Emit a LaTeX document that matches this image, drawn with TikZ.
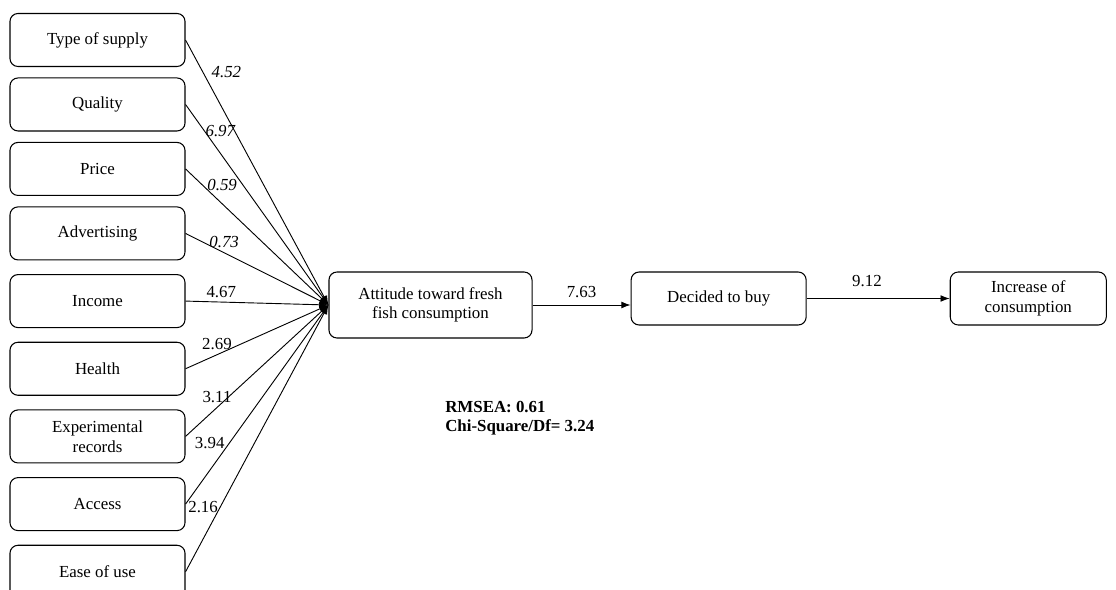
\documentclass[tikz,border=0pt]{standalone}
\usepackage{fontspec}
\setmainfont{Liberation Serif}
\usepackage{tikz}
\usetikzlibrary{shapes,arrows.meta,positioning}

\begin{document}
\begin{tikzpicture}[x=0.025cm, y=-0.025cm, node distance=0.26cm,
    factor/.style={rectangle, draw, rounded corners=0.2cm, line width=0.75pt, minimum width=4.375cm, minimum height=1.325cm, align=center, font=\fontsize{12}{14}\selectfont},
    arrow/.style={->, >={Latex[length=2.3mm, width=1.7mm]}, line width=0.65pt},
    coef/.style={font=\fontsize{12}{14}\selectfont, inner sep=3pt}]

    \useasboundingbox (0,0) rectangle (1116,590);

    \node[factor] (supply) at (97.5,40) {Type of supply};
    \node[factor, below=of supply] (quality) {Quality};
    \node[factor, below=of quality] (price) {Price};
    \node[factor, below=of price] (advert) {Advertising};
    \node[factor, below=0.34cm of advert] (income) {Income};
    \node[factor, below=0.34cm of income] (health) {Health};
    \node[factor, below=0.34cm of health] (records) {Experimental\\records};
    \node[factor, below=0.34cm of records] (access) {Access};
    \node[factor, below=0.34cm of access] (ease) {Ease of use};

    \node[factor, minimum width=5.075cm, minimum height=1.65cm] (attitude) at (430.5,305) {Attitude toward fresh\\fish consumption};
    \node[factor, right=2.45cm of attitude.north east, anchor=north west] (decided) {Decided to buy};
    \node[factor, minimum width=3.9cm, right=3.575cm of decided] (increase) {Increase of\\consumption};

    \node[anchor=north west, align=left, inner sep=0pt, font=\fontsize{12}{13.5}\selectfont\bfseries] (fit) at (445,401) {RMSEA: 0.61\\Chi-Square/Df= 3.24};

    \draw[arrow] (supply.east) -- node[coef, pos=0.12, right=3pt, font=\fontsize{12}{14}\selectfont\itshape] {4.52} (attitude.west);
    \draw[arrow] (quality.east) -- node[coef, pos=0.132, anchor=west, inner sep=0.5pt, font=\fontsize{12}{14}\selectfont\itshape] {6.97} (attitude.west);
    \draw[arrow] (price.east) -- node[coef, pos=0.12, right, font=\fontsize{12}{14}\selectfont\itshape] {0.59} (attitude.west);
    \draw[arrow] (advert.east) -- node[coef, pos=0.27, above, font=\fontsize{12}{14}\selectfont\itshape] {0.73} (attitude.west);
    \draw[arrow] (income.east) -- node[coef, pos=0.25, above] {4.67} (attitude.west);
    \draw[arrow] (health.east) -- node[coef, pos=0.22, above] {2.69} (attitude.west);
    \draw[arrow] (records.east) -- node[coef, pos=0.22, above] {3.11} (attitude.west);
    \draw[arrow] (access.east) -- node[coef, pos=0.305, left] {3.94} (attitude.west);
    \draw[arrow] (ease.east) -- node[coef, pos=0.244, left, inner sep=1.5pt] {2.16} (attitude.west);

    \draw[arrow] (attitude.east) -- node[coef, above, yshift=2pt] {7.63} (attitude.east -| decided.west);
    \draw[arrow] (decided) -- node[coef, above, yshift=5pt, xshift=-8pt] {9.12} (increase);

\end{tikzpicture}
\end{document}
